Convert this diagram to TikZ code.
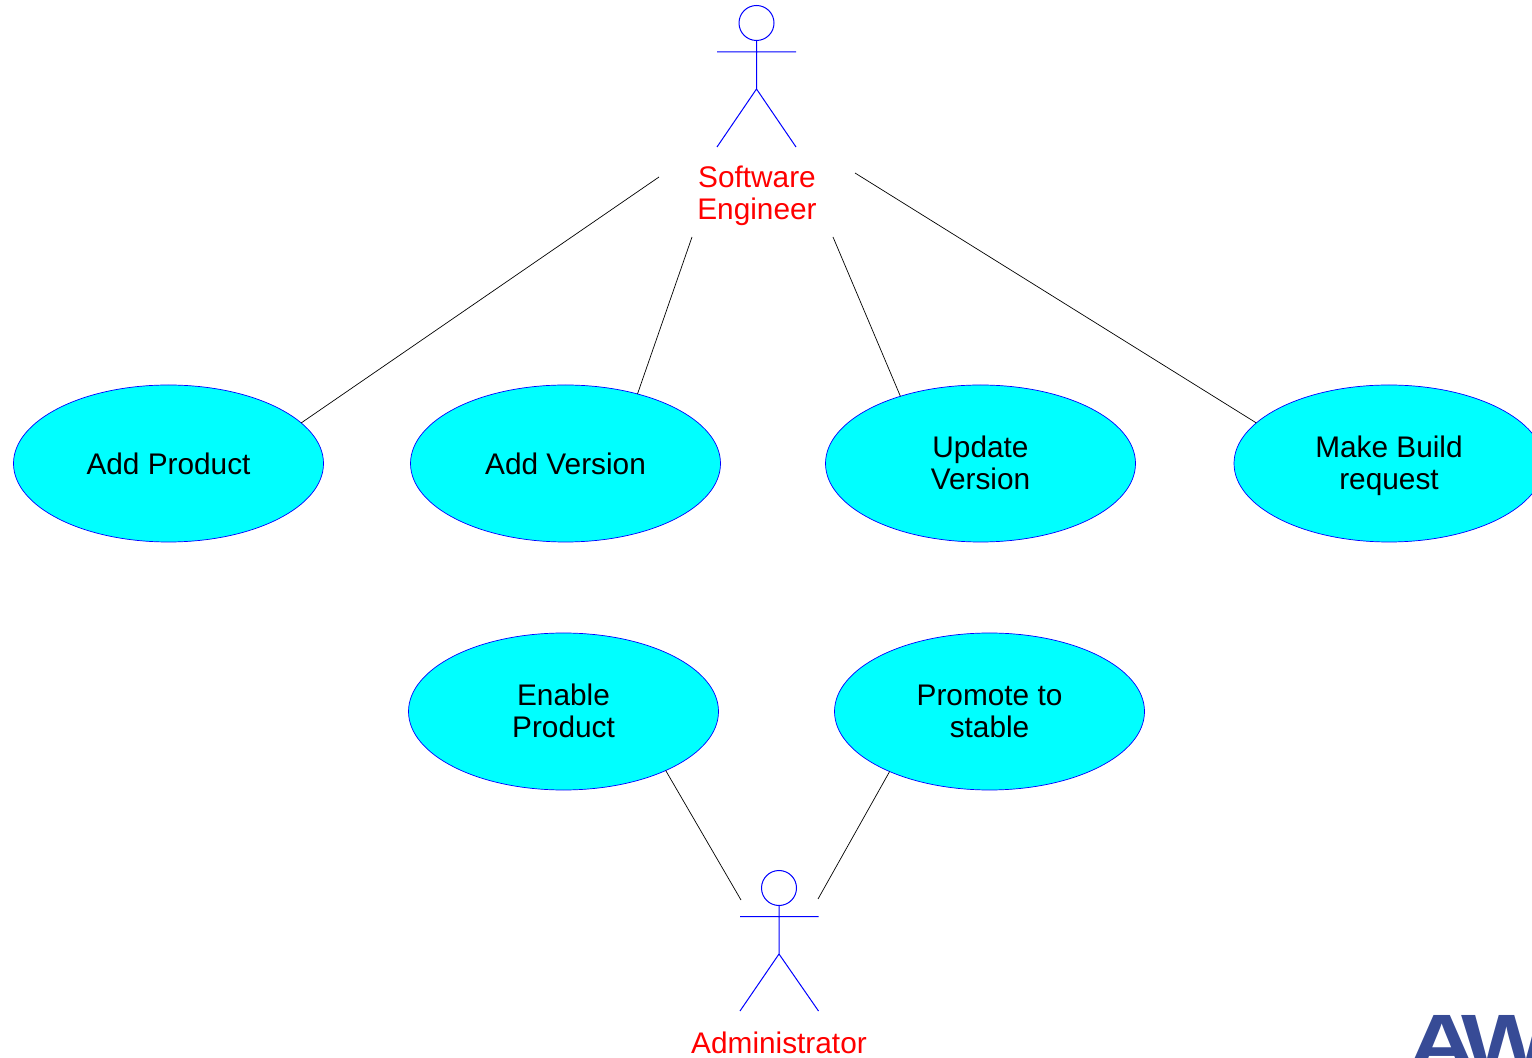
\documentclass[tikz,border=0pt]{standalone}
\usepackage{fontspec}
\setmainfont{Liberation Sans}
\usetikzlibrary{shapes.geometric}
\definecolor{ucfill}{RGB}{0,255,255}
\definecolor{ucblue}{RGB}{0,0,255}
\definecolor{ucred}{RGB}{255,0,0}
\definecolor{logoblue}{RGB}{55,75,150}
\newcommand{\linefix}{\rule[-0.6pt]{0pt}{11.4pt}}
\begin{document}
\begin{tikzpicture}[x=0.5pt,y=-0.5pt,
  usecase/.style={ellipse,draw=ucblue,fill=ucfill,line width=0.35pt,minimum width=155pt,minimum height=78.5pt,inner sep=0pt,outer sep=0pt,align=center,font=\fontsize{14.9}{16}\selectfont},
  actorlabel/.style={text=ucred,align=center,inner sep=0pt,font=\fontsize{14.9}{16}\selectfont},
  stick/.style={draw=ucblue,line width=0.5pt},
  link/.style={draw=black,line width=0.35pt}]
\useasboundingbox (0,0) rectangle (1532,1058);
\clip (0,0) rectangle (1532,1058);
\node[usecase] (addp) at (168.5,463.5) {Add Product};
\node[usecase] (addv) at (565.5,463.5) {Add Version};
\node[usecase] (updv) at (980.5,463.5) {\linefix Update\\\linefix Version};
\node[usecase] (make) at (1389,463.5) {\linefix Make Build\\\linefix\smash{request}};
\node[usecase] (enab) at (563.5,711.5) {\linefix Enable\\\linefix Product};
\node[usecase] (prom) at (989.5,711.5) {\linefix Promote to\\\linefix stable};
% Software Engineer actor
\draw[stick] (756.5,23) circle[radius=17.5];
\draw[stick] (756.5,40.5) -- (756.5,89) (717,52) -- (796,52) (717,147) -- (756.5,89) -- (796,147);
\node[actorlabel] (eng) at (757,196) {Software\\Engineer};
% Administrator actor
\draw[stick] (779,888) circle[radius=17.5];
\draw[stick] (779,905.5) -- (779,954) (740,916.5) -- (818.5,916.5) (740,1011) -- (779,954) -- (818.5,1011);
\node[actorlabel] (adm) at (779,1043) {Administrator};
% free ends
\coordinate (e1) at (659,177);
\coordinate (e2) at (692,237);
\coordinate (e3) at (833,237);
\coordinate (e4) at (855,173);
\coordinate (a1) at (741,900);
\coordinate (a2) at (818,899);
\draw[link] (e1) -- (addp.17.6);
\draw[link] (e2) -- (addv.44.6);
\draw[link] (e3) -- (updv.140);
\draw[link] (e4) -- (make.163.2);
\draw[link] (a1) -- (enab.-30.2);
\draw[link] (a2) -- (prom.211.5);
% logo, cut by the page edge
\node[anchor=base west,inner sep=0pt,text=logoblue,xscale=1.2,transform shape,font=\bfseries\fontsize{40}{40}\selectfont] (logo) at (1407,1070) {A\kern-6.5ptW};
\end{tikzpicture}
\end{document}
